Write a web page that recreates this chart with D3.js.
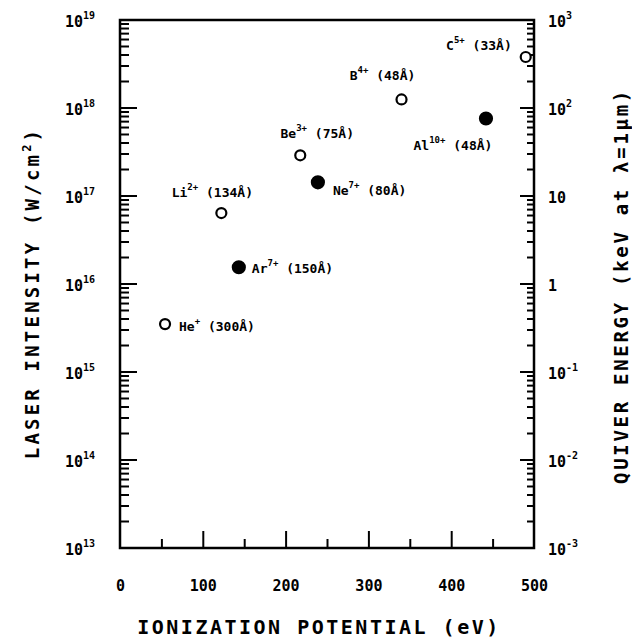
<!DOCTYPE html>
<html>
<head>
<meta charset="utf-8">
<script src="https://cdn.jsdelivr.net/npm/d3@7"></script>
<style>
  body { margin: 0; background: #fff; }
  svg text { font-family: "DejaVu Sans Mono", monospace; font-weight: bold; fill: #000; }
</style>
</head>
<body>
<svg width="632" height="640"></svg>
<script>
// ion data
const ionNames = ['He', 'Li', 'Ar', 'Be', 'Ne', 'B', 'Al', 'C'];
const ionCharges = ['+', '2+', '7+', '3+', '7+', '4+', '10+', '5+'];
const wavelengths = [300, 134, 150, 75, 80, 48, 48, 33]; // Angstrom
const potentials = [54.4, 122.4, 143.5, 217.7, 239, 340, 442, 490]; // eV
const intensities = [3.5e15, 6.4e16, 1.55e16, 2.9e17, 1.43e17, 1.25e18, 7.6e17, 3.8e18]; // W/cm2
const filled = [false, false, true, false, true, false, true, false];

const xTickLabels = [0, 100, 200, 300, 400, 500];
const leftExponents = [13, 14, 15, 16, 17, 18, 19];
const rightExponents = [-3, -2, -1, 0, 1, 2, 3];
const minorMultipliers = [1, 2, 3, 4, 5, 6, 7, 8, 9];

// where each label sits relative to its point: [dx, dy, anchor]
const labelPlacement = [
  [14, 7, 'start'],
  [-9, -16, 'middle'],
  [13, 6, 'start'],
  [17, -17, 'middle'],
  [15, 13, 'start'],
  [-19, -19, 'middle'],
  [-33, 32, 'middle'],
  [-14, -7, 'end'],
];

const plot = { left: 120, right: 534, top: 20, bottom: 548 };

const svg = d3.select('svg');

const x = d3.scaleLinear().domain([0, 500]).range([plot.left, plot.right]);
const y = d3.scaleLog().domain([1e13, 1e19]).range([plot.bottom, plot.top]);
const yRight = d3.scaleLog().domain([1e-3, 1e3]).range([plot.bottom, plot.top]);

// 1..9 times every decade in the list (last decade only its own tick)
function logTicks(exponents) {
  const out = [];
  exponents.forEach((e, i) => {
    const mults = i === exponents.length - 1 ? [1] : minorMultipliers;
    mults.forEach((m) => out.push({ value: m * Math.pow(10, e), major: m === 1 }));
  });
  return out;
}

// frame
svg.append('rect')
  .attr('x', plot.left).attr('y', plot.top)
  .attr('width', plot.right - plot.left).attr('height', plot.bottom - plot.top)
  .attr('fill', 'none').attr('stroke', '#000').attr('stroke-width', 2.5);

// left axis, ticks pointing into the plot
svg.append('g')
  .attr('class', 'left-ticks')
  .selectAll('line')
  .data(logTicks(leftExponents))
  .join('line')
  .attr('x1', plot.left)
  .attr('x2', (d) => plot.left + (d.major ? 17 : 9))
  .attr('y1', (d) => y(d.value))
  .attr('y2', (d) => y(d.value))
  .attr('stroke', '#000')
  .attr('stroke-width', 2);

// right axis
svg.append('g')
  .attr('class', 'right-ticks')
  .selectAll('line')
  .data(logTicks(rightExponents))
  .join('line')
  .attr('x1', plot.right)
  .attr('x2', (d) => plot.right - (d.major ? 14 : 7))
  .attr('y1', (d) => yRight(d.value))
  .attr('y2', (d) => yRight(d.value))
  .attr('stroke', '#000')
  .attr('stroke-width', 2);

// bottom axis ticks
svg.append('g')
  .attr('transform', `translate(0,${plot.bottom})`)
  .call(d3.axisTop(x).tickValues(d3.range(50, 500, 50)).tickSizeOuter(0).tickFormat(''))
  .call((g) => g.select('.domain').remove())
  .call((g) => g.selectAll('.tick line')
    .attr('y2', (d) => (d % 100 === 0 ? -17 : -9))
    .attr('stroke-width', 2));

// bottom tick labels
svg.append('g')
  .attr('transform', `translate(0,${plot.bottom})`)
  .call(d3.axisBottom(x).tickValues(xTickLabels).tickSize(0).tickPadding(32))
  .call((g) => g.select('.domain').remove())
  .call((g) => g.selectAll('text')
    .attr('font-size', 15)
    .attr('font-family', '"DejaVu Sans Mono", monospace'));

// left tick labels: 10^n
const leftLabels = svg.append('g').selectAll('text')
  .data(leftExponents)
  .join('text')
  .attr('x', 65)
  .attr('y', (d) => y(Math.pow(10, d)) + 7)
  .attr('font-size', 15);
leftLabels.append('tspan').text('10');
leftLabels.append('tspan')
  .attr('dy', -8).attr('font-size', 10)
  .text((d) => d);

// right tick labels
const rightLabels = svg.append('g').selectAll('text')
  .data(rightExponents)
  .join('text')
  .attr('x', 548)
  .attr('y', (d) => yRight(Math.pow(10, d)) + 7)
  .attr('font-size', 15);
rightLabels.append('tspan').text((d) => (d === 0 ? '1' : '10'));
rightLabels.filter((d) => d !== 0 && d !== 1)
  .append('tspan')
  .attr('dy', -8).attr('font-size', 10)
  .text((d) => d);

// axis titles
svg.append('text')
  .attr('x', (plot.left + plot.right) / 2 - 8)
  .attr('y', 634)
  .attr('text-anchor', 'middle')
  .attr('font-size', 20)
  .attr('letter-spacing', 2.5)
  .text('IONIZATION POTENTIAL (eV)');

const leftTitle = svg.append('text')
  .attr('transform', 'translate(39,293) rotate(-90)')
  .attr('text-anchor', 'middle')
  .attr('font-size', 19)
  .attr('letter-spacing', 3.2);
leftTitle.append('tspan').text('LASER INTENSITY  (W/cm');
leftTitle.append('tspan').attr('dy', -8).attr('font-size', 12).text('2');
leftTitle.append('tspan').attr('dy', 8).text(')');

svg.append('text')
  .attr('transform', 'translate(628,286) rotate(-90)')
  .attr('text-anchor', 'middle')
  .attr('font-size', 19)
  .attr('letter-spacing', 2.7)
  .text('QUIVER ENERGY  (keV at \u03bb=1\u03bcm)');

// points
const ions = ionNames.map((name, i) => ({
  name,
  charge: ionCharges[i],
  wavelength: wavelengths[i],
  potential: potentials[i],
  intensity: intensities[i],
  filled: filled[i],
  place: labelPlacement[i],
}));

svg.append('g').selectAll('circle')
  .data(ions)
  .join('circle')
  .attr('cx', (d) => x(d.potential))
  .attr('cy', (d) => y(d.intensity))
  .attr('r', (d) => (d.filled ? 6 : 5))
  .attr('fill', (d) => (d.filled ? '#000' : '#fff'))
  .attr('stroke', '#000')
  .attr('stroke-width', 2.2);

const labels = svg.append('g').selectAll('text')
  .data(ions)
  .join('text')
  .attr('x', (d) => x(d.potential) + d.place[0])
  .attr('y', (d) => y(d.intensity) + d.place[1])
  .attr('text-anchor', (d) => d.place[2])
  .attr('font-size', 13);
labels.append('tspan').text((d) => d.name);
labels.append('tspan').attr('dy', -7).attr('font-size', 9).text((d) => d.charge);
labels.append('tspan').attr('dy', 7).text((d) => ` (${d.wavelength}\u00c5)`);
</script>
</body>
</html>
